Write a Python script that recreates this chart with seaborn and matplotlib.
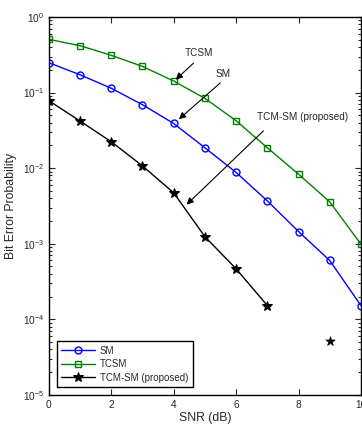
import numpy as np
import pandas as pd
import seaborn as sns

from matplotlib import pyplot as plt
from matplotlib.ticker import LogLocator, NullFormatter

# Werte
snr = [0, 1, 2, 3, 4, 5, 6, 7, 8, 9, 10]
ber_sm = [0.248, 0.172, 0.114, 0.069, 0.039, 0.0186, 0.00877, 0.00369, 0.00145, 0.00060, 0.000152]
ber_tcsm = [0.506, 0.417, 0.311, 0.222, 0.142, 0.0838, 0.0424, 0.0186, 0.00833, 0.00358, 0.000985]
snr_tcm = [0, 1, 2, 3, 4, 5, 6, 7]
ber_tcm = [0.078, 0.042, 0.0223, 0.0107, 0.00471, 0.00124, 0.000465, 0.000152]
# einzelner Punkt ohne Linie
snr_tcm_extra = [9]
ber_tcm_extra = [5.2e-5]

sns.set_style('ticks')
plt.rcParams['font.family'] = ['Liberation Sans', 'DejaVu Sans']
plt.rcParams['xtick.direction'] = 'in'
plt.rcParams['ytick.direction'] = 'in'

fig = plt.figure(figsize=(3.62, 4.25), dpi=100)
ax = fig.add_axes([0.135, 0.071, 0.862, 0.889])

sns.lineplot(x=snr, y=ber_sm, ax=ax, color='#0000ff', marker='o', markersize=5,
             markerfacecolor='none', markeredgecolor='#0000ff', markeredgewidth=1,
             lw=1, label='SM')
sns.lineplot(x=snr, y=ber_tcsm, ax=ax, color='#008000', marker='s', markersize=5,
             markerfacecolor='none', markeredgecolor='#008000', markeredgewidth=1,
             lw=1, label='TCSM')
sns.lineplot(x=snr_tcm, y=ber_tcm, ax=ax, color='black', marker='*', markersize=7,
             markerfacecolor='black', markeredgecolor='black', lw=1,
             label='TCM-SM (proposed)')
sns.scatterplot(x=snr_tcm_extra, y=ber_tcm_extra, ax=ax, color='black', marker='*',
                s=49, edgecolor='black', linewidth=0.5)

ax.set_yscale('log')
ax.set_xlim(0, 10)
ax.set_ylim(1e-5, 1)
ax.set_xticks([0, 2, 4, 6, 8, 10])
ax.yaxis.set_major_locator(LogLocator(base=10, numticks=10))
ax.yaxis.set_minor_locator(LogLocator(base=10, subs=np.arange(2, 10), numticks=20))
ax.yaxis.set_minor_formatter(NullFormatter())
ax.tick_params(which='both', top=True, right=True, labelsize=7.3, width=0.8)
ax.tick_params(which='major', length=4)
ax.tick_params(which='minor', length=2)
for sp in ax.spines.values():
    sp.set_linewidth(1)
    sp.set_color('black')

ax.set_xlabel('SNR (dB)', fontsize=8.8, labelpad=2)
ax.set_ylabel('Bit Error Probability', fontsize=8.8, labelpad=4)

# Pfeile mit Beschriftung
arrow = dict(arrowstyle='-|>', color='black', lw=0.8, mutation_scale=10)
ax.annotate('', xy=(4.0, 0.14), xytext=(4.7, 0.26), arrowprops=arrow)
ax.text(4.35, 0.33, 'TCSM', fontsize=7.2, va='center', ha='left')
ax.annotate('', xy=(4.1, 0.042), xytext=(5.56, 0.142), arrowprops=arrow)
ax.text(5.35, 0.175, 'SM', fontsize=7.2, va='center', ha='left')
ax.annotate('', xy=(4.35, 0.0031), xytext=(6.94, 0.033), arrowprops=arrow)
ax.text(6.66, 0.047, 'TCM-SM (proposed)', fontsize=7.2, va='center', ha='left')

leg = ax.legend(loc='lower left', fontsize=7, frameon=True, fancybox=False,
                edgecolor='black', framealpha=1, handlelength=3.5, numpoints=1,
                borderaxespad=0.8, labelspacing=0.35, borderpad=0.45,
                handletextpad=0.5)
leg.get_frame().set_linewidth(1)

fig.savefig('out.png', dpi=100)
